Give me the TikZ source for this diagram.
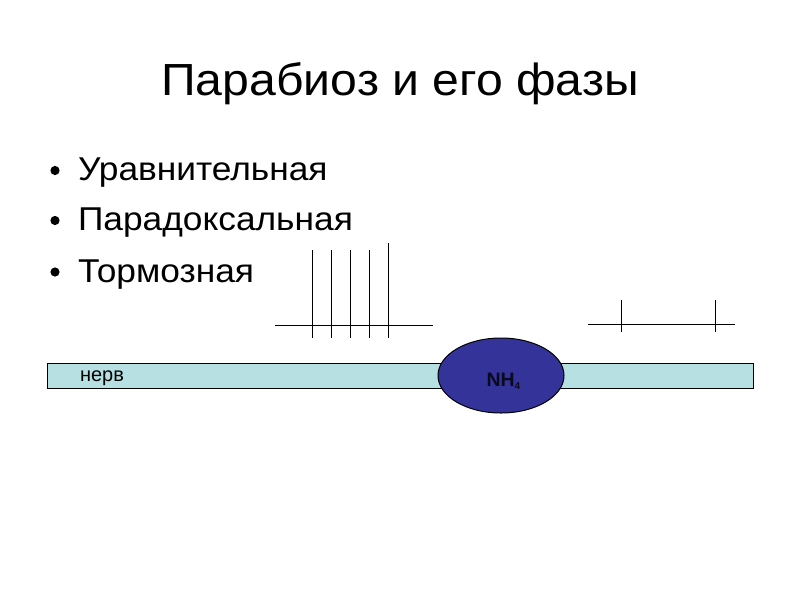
\documentclass[tikz,border=0pt]{standalone}
\usepackage{fontspec}
\setmainfont{Liberation Sans}
\definecolor{nerveCyan}{RGB}{182,224,226}
\definecolor{blockBlue}{RGB}{51,51,153}
\definecolor{blockText}{RGB}{10,10,30}
\usepackage{tikz}
\usetikzlibrary{shapes.geometric,positioning}

\begin{document}
\begin{tikzpicture}[x=1pt, y=-1pt, every node/.style={inner sep=0pt, outer sep=0pt}]
  \useasboundingbox (0,0) rectangle (800,600);
  % Title
  \node[anchor=base, font=\fontsize{45}{50}\selectfont] (title) at (400,95) {\scalebox{1.07}[1]{Парабиоз и его фазы}};
  % Bullet list
  \node[anchor=base west, font=\fontsize{33}{38}\selectfont] (ph1) at (78,180.5) {\scalebox{1.07}[1]{Уравнительная}};
  \node[anchor=base west, font=\fontsize{33}{38}\selectfont] (ph2) at (78,230.5) {\scalebox{1.07}[1]{Парадоксальная}};
  \node[anchor=base west, font=\fontsize{33}{38}\selectfont] (ph3) at (78,282) {\scalebox{1.07}[1]{Тормозная}};
  \fill (55,170.5) circle (4.6);
  \fill (55,220.5) circle (4.6);
  \fill (55,272) circle (4.6);
  % Nerve
  \node[draw, line width=1pt, fill=nerveCyan, anchor=north west, minimum width=705.5, minimum height=24.5]
    (nerve) at (47.5,363.5) {};
  \node[anchor=base west, font=\fontsize{20}{24}\selectfont] (nervelbl) at (80,381.7) {нерв};
  \node[draw, ellipse, line width=1pt, fill=blockBlue, minimum width=126, minimum height=75] (nh) at (501,375.5) {};
  \node[anchor=base west, font=\fontsize{19.5}{22}\selectfont\bfseries, text=blockText] (nhlbl) at (486.5,386)
    {NH\raisebox{-3pt}{\fontsize{10}{12}\selectfont 4}};
  % Spikes before the block
  \draw[line width=1pt] (275,325) -- (432.5,325);
  \foreach \sx in {312.3,331.7,350,369} \draw[line width=1pt] (\sx,250) -- (\sx,338);
  \draw[line width=1pt] (388,243) -- (388,338);
  % Spikes after the block
  \draw[line width=1pt] (588,324.3) -- (735,324.3);
  \foreach \sx in {621,715.7} \draw[line width=1pt] (\sx,300) -- (\sx,331.7);
\end{tikzpicture}
\end{document}
